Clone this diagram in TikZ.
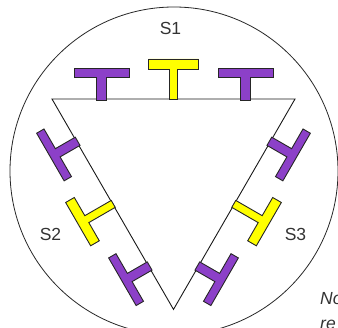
\documentclass[tikz,border=0pt]{standalone}
\usepackage{fontspec}
\setmainfont{Liberation Sans}
\definecolor{tpurple}{RGB}{140,64,200}
\definecolor{tyellow}{RGB}{255,255,0}
\definecolor{labelgray}{RGB}{51,51,51}
\tikzset{
  teeline/.style={draw=black!85, line width=0.9pt, line join=miter},
  lbl/.style={font=\fontsize{17.5}{21}\selectfont, text=labelgray, inner sep=0pt},
  notelbl/.style={font=\fontsize{17.5}{21}\selectfont\itshape, text=labelgray, inner sep=0pt, anchor=base west}
}
\newcommand{\myPurpleTee}[1]{%
  \draw[teeline, fill=tpurple, shift={(#1,229)}] (-4.75,-1) -- (4.75,-1) -- (4.75,22) -- (27.5,22) -- (27.5,30.5) -- (-27.5,30.5) -- (-27.5,22) -- (-4.75,22) -- cycle;}
\newcommand{\myYellowTee}[1]{%
  \draw[teeline, fill=tyellow, shift={(#1,229)}] (-4,-0.5) -- (4,-0.5) -- (4,30) -- (25,30) -- (25,40) -- (-25,40) -- (-25,30) -- (-4,30) -- cycle;}
\begin{document}
\begin{tikzpicture}[x=1pt,y=1pt]
\useasboundingbox (0,0) rectangle (338,328);
\coordinate (cen) at (173.5,158.9);
\coordinate (A) at (52,229);
\coordinate (B) at (295,229);
\coordinate (C) at (173.5,18.6);
\draw[line width=0.8pt, black!85] (174,157) circle (164);
\draw[line width=0.9pt, black!90, line join=miter] (A) -- (B) -- (C) -- cycle;
\foreach \r in {0,120,-120}{
  \begin{scope}[rotate around={\r:(cen)}]
    \myPurpleTee{101.5}
    \myYellowTee{173.5}
    \myPurpleTee{245.5}
  \end{scope}
}
\node[lbl] (s1) at (170.5,299.7) {S1};
\node[lbl] (s2) at (50.5,94) {S2};
\node[lbl] (s3) at (295.5,94) {S3};
\node[notelbl] (note1) at (320,23) {No};
\node[notelbl] (note2) at (320,-2) {re};
\end{tikzpicture}
\end{document}
